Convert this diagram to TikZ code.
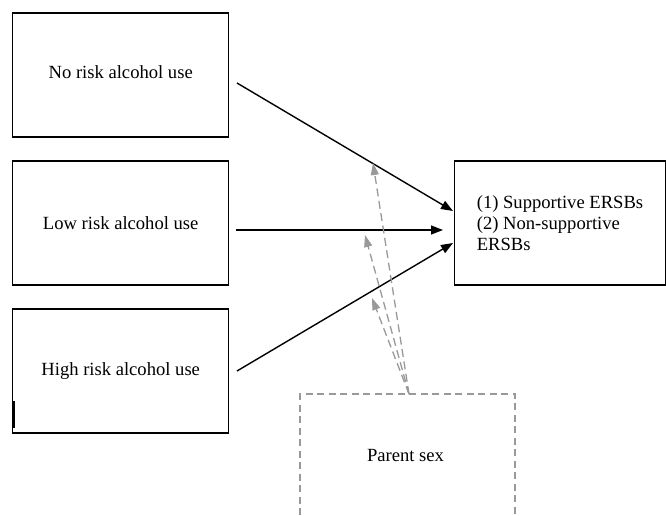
\documentclass[tikz,border=0pt]{standalone}
\usepackage{fontspec}
\setmainfont{Liberation Serif}
\usetikzlibrary{calc,positioning,arrows.meta}
\tikzset{
    boxfont/.style={font=\fontsize{18.6}{21}\selectfont},
    riskbox/.style={draw, line width=1.3pt, minimum width=216pt, minimum height=124pt, boxfont},
    outbox/.style={draw, line width=1.3pt, minimum width=211pt, minimum height=124pt, align=left, boxfont},
    sexbox/.style={draw=gray!80, dash pattern=on 7pt off 4.5pt, line width=1.3pt, minimum width=215pt, minimum height=146pt},
    path/.style={line width=1.4pt, -{Triangle[length=12pt,width=9pt]}},
    modpath/.style={gray!80, line width=1.3pt, dash pattern=on 8pt off 4.5pt, -{Triangle[length=12pt,width=8pt]}}
}

\begin{document}
\begin{tikzpicture}[x=1pt, y=-1pt]
    \useasboundingbox (0,0) rectangle (666,516);
    % boxes
    \node[riskbox, text depth=6pt] (none) at (120.7,75) {No risk alcohol use};
    \node[riskbox] (low) at (120.7,223) {Low risk alcohol use};
    \node[riskbox] (high) at (120.7,371) {High risk alcohol use};
    \node[outbox] (ersb) at (560,223) {(1) Supportive ERSBs\\(2) Non-supportive\\ERSBs};
    \node[sexbox] (sex) at (407.5,467) {};
    \node[boxfont] (sexlabel) at (405.5,455) {Parent sex};
    \draw[line width=3pt] ($(high.south west)+(1,-6)$) -- ($(high.south west)+(1,-33)$);

    % end points
    \coordinate (a1) at (237,83);
    \coordinate (a2) at (236,230);
    \coordinate (a3) at (237,371);
    \coordinate (b1) at (453,211);
    \coordinate (b2) at (443,230);
    \coordinate (b3) at (453,243);
    \coordinate (m1) at (373,163);
    \coordinate (m2) at (365,235);
    \coordinate (m3) at (372,298);
    \coordinate (s) at (409,394);

    \draw[path] (a1) -- (b1);
    \draw[path] (a2) -- (b2);
    \draw[path] (a3) -- (b3);

    % moderation
    \draw[modpath] (s) -- (m1);
    \draw[modpath] (s) -- (m2);
    \draw[modpath] (s) -- (m3);
\end{tikzpicture}
\end{document}
